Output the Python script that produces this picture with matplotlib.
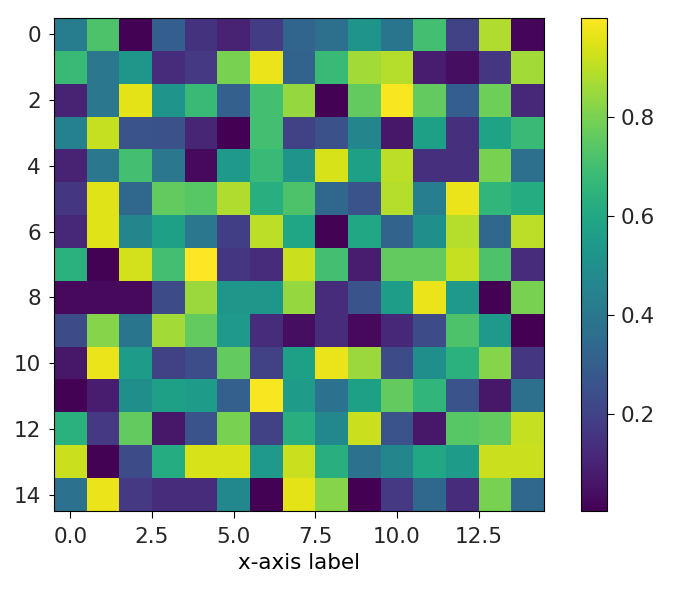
import numpy as np
import matplotlib
matplotlib.use("Agg")
import matplotlib.pyplot as plt
from matplotlib.ticker import MultipleLocator

# cell values, one list per row (row 0 at top)
row00 = [0.42, 0.72, 0.01, 0.30, 0.15, 0.10, 0.18, 0.33, 0.37, 0.52, 0.39, 0.70, 0.20, 0.88, 0.02]
row01 = [0.68, 0.40, 0.53, 0.13, 0.17, 0.80, 0.97, 0.32, 0.68, 0.86, 0.89, 0.08, 0.04, 0.16, 0.86]
row02 = [0.10, 0.40, 0.96, 0.52, 0.68, 0.31, 0.70, 0.84, 0.01, 0.76, 0.99, 0.76, 0.30, 0.78, 0.12]
row03 = [0.44, 0.91, 0.26, 0.25, 0.11, 0.004, 0.70, 0.20, 0.25, 0.46, 0.07, 0.57, 0.14, 0.58, 0.68]
row04 = [0.10, 0.40, 0.70, 0.40, 0.03, 0.54, 0.68, 0.52, 0.94, 0.57, 0.90, 0.14, 0.14, 0.80, 0.37]
row05 = [0.16, 0.95, 0.34, 0.76, 0.74, 0.88, 0.63, 0.72, 0.34, 0.26, 0.89, 0.43, 0.97, 0.66, 0.62]
row06 = [0.12, 0.95, 0.46, 0.57, 0.40, 0.19, 0.90, 0.59, 0.01, 0.60, 0.32, 0.50, 0.89, 0.34, 0.90]
row07 = [0.64, 0.01, 0.93, 0.70, 0.999, 0.16, 0.13, 0.92, 0.70, 0.08, 0.76, 0.76, 0.91, 0.72, 0.13]
row08 = [0.03, 0.03, 0.03, 0.23, 0.85, 0.53, 0.53, 0.84, 0.13, 0.26, 0.56, 0.97, 0.54, 0.01, 0.80]
row09 = [0.23, 0.82, 0.39, 0.86, 0.76, 0.54, 0.13, 0.04, 0.13, 0.03, 0.12, 0.23, 0.72, 0.54, 0.005]
row10 = [0.07, 0.97, 0.55, 0.20, 0.24, 0.76, 0.20, 0.57, 0.97, 0.85, 0.23, 0.50, 0.64, 0.82, 0.16]
row11 = [0.01, 0.08, 0.50, 0.57, 0.55, 0.31, 0.99, 0.55, 0.38, 0.57, 0.76, 0.66, 0.26, 0.07, 0.37]
row12 = [0.64, 0.17, 0.76, 0.07, 0.26, 0.80, 0.20, 0.63, 0.47, 0.92, 0.26, 0.07, 0.74, 0.76, 0.91]
row13 = [0.92, 0.01, 0.23, 0.62, 0.94, 0.94, 0.54, 0.92, 0.63, 0.38, 0.46, 0.60, 0.55, 0.92, 0.92]
row14 = [0.38, 0.97, 0.17, 0.13, 0.13, 0.47, 0.01, 0.96, 0.82, 0.005, 0.17, 0.34, 0.13, 0.80, 0.34]

grid = np.array([row00, row01, row02, row03, row04, row05, row06, row07,
                 row08, row09, row10, row11, row12, row13, row14])

plt.rcParams['font.size'] = 15.5
plt.rcParams['text.color'] = '#262626'
plt.rcParams['xtick.labelcolor'] = '#262626'
plt.rcParams['ytick.labelcolor'] = '#262626'

fig = plt.figure(figsize=(6.75, 5.97), dpi=100)
W, H = 675, 597
ax = fig.add_axes([54 / W, (H - 511) / H, 490 / W, 493 / H])
cax = fig.add_axes([581 / W, (H - 511) / H, 26 / W, 493 / H])

im = ax.imshow(grid, cmap='viridis', aspect='auto')
ax.xaxis.set_major_locator(MultipleLocator(2.5))
ax.yaxis.set_major_locator(MultipleLocator(2))
ax.tick_params(axis='x', length=5, pad=6.5)
ax.tick_params(axis='y', length=3.5, pad=6)
ax.set_xlabel('x-axis label', labelpad=4)

cb = fig.colorbar(im, cax=cax)
cb.ax.tick_params(length=5, pad=5)

fig.savefig('out.png', dpi=100)
